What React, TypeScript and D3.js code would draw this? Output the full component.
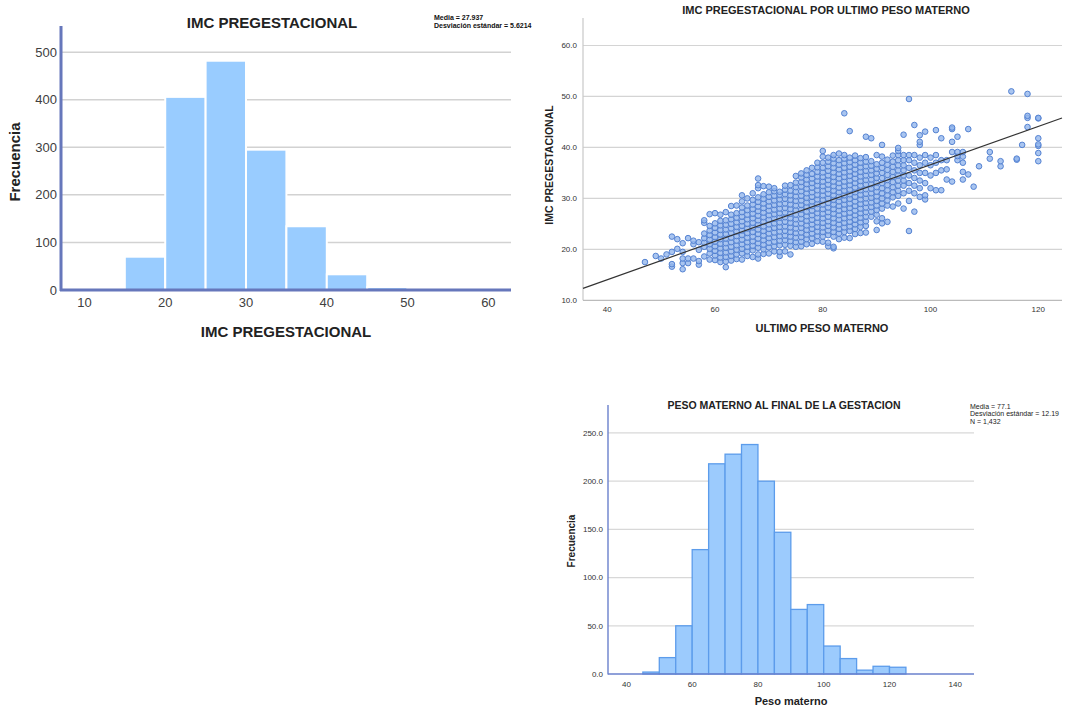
import React from "react";
import * as d3 from "d3";

// ---------- Chart 1: IMC PREGESTACIONAL histogram ----------
const imcBinStarts = [10, 15, 20, 25, 30, 35, 40, 45, 50, 55, 60];
const imcCounts = [0, 70, 406, 482, 295, 134, 33, 6, 3, 2, 1];
const imcXTicks = [10, 20, 30, 40, 50, 60];
const imcYTicks = [0, 100, 200, 300, 400, 500];

// ---------- Chart 3: PESO MATERNO histogram ----------
const pesoBinStarts = [45, 50, 55, 60, 65, 70, 75, 80, 85, 90, 95, 100, 105, 110, 115, 120];
const pesoCounts = [2, 17, 50, 129, 218, 228, 238, 200, 147, 67, 72, 29, 16, 4, 8, 7];
const pesoXTicks = [40, 60, 80, 100, 120, 140];
const pesoYTicks = [0, 50, 100, 150, 200, 250];

// ---------- Chart 2: scatter IMC vs ULTIMO PESO ----------
const scatterXTicks = [40, 60, 80, 100, 120];
const scatterYTicks = [10, 20, 30, 40, 50, 60];
const regression = { intercept: -1.0, slope: 0.376 };
// [peso, [IMC values read per weight column]]
const scatterColumns: [number, number[]][] = [
  [47, [17.5]],
  [49, [18.7]],
  [50, [18.2]],
  [51, [19.0]],
  [52, [16.6, 17.1, 19.5, 22.5]],
  [53, [20.1, 22.0]],
  [54, [16.1, 17.3, 18.2, 19.5, 21.2]],
  [55, [17.3, 18.2, 22.2]],
  [56, [18.2, 21.0, 21.7]],
  [57, [17.0, 17.7, 19.9, 21.4]],
  [58, [18.6, 20.5, 21.3, 22.2, 23.1, 25.2, 25.7]],
  [59, [18.0, 19.2, 20.1, 21.0, 21.9, 22.8, 23.7, 24.6, 26.9]],
  [60, [17.9, 18.8, 19.7, 20.6, 21.5, 22.4, 23.3, 24.2, 25.1, 27.1]],
  [61, [17.5, 18.4, 19.3, 20.2, 21.1, 22.0, 22.9, 23.8, 24.7, 25.6, 26.8]],
  [62, [16.5, 17.6, 18.5, 19.4, 20.3, 21.2, 22.1, 23.0, 23.9, 24.8, 25.7, 27.3]],
  [63, [17.8, 18.7, 19.6, 20.5, 21.4, 22.3, 23.2, 24.1, 25.0, 25.9, 26.8, 28.5]],
  [64, [18.1, 19.0, 19.9, 20.8, 21.7, 22.6, 23.5, 24.4, 25.3, 26.2, 27.1, 28.6]],
  [65, [18.0, 19.2, 20.1, 21.0, 21.9, 22.8, 23.7, 24.6, 25.5, 26.4, 27.3, 28.2, 29.4, 30.6]],
  [66, [18.7, 19.6, 20.5, 21.4, 22.3, 23.2, 24.1, 25.0, 25.9, 26.8, 27.7, 28.6, 30.0]],
  [67, [18.5, 19.8, 20.7, 21.6, 22.5, 23.4, 24.3, 25.2, 26.1, 27.0, 27.9, 28.8, 29.7, 31.0]],
  [68, [18.2, 19.0, 20.3, 21.2, 22.1, 23.0, 23.9, 24.8, 25.7, 26.6, 27.5, 28.4, 29.3, 30.2, 32.0, 32.6, 33.9]],
  [69, [19.1, 20.0, 20.9, 21.8, 22.7, 23.6, 24.5, 25.4, 26.3, 27.2, 28.1, 29.0, 29.9, 30.8, 32.4]],
  [70, [19.2, 20.4, 21.3, 22.2, 23.1, 24.0, 24.9, 25.8, 26.7, 27.6, 28.5, 29.4, 30.3, 31.2, 32.3]],
  [71, [19.6, 20.6, 21.5, 22.4, 23.3, 24.2, 25.1, 26.0, 26.9, 27.8, 28.7, 29.6, 30.5, 31.4, 32.0]],
  [72, [18.7, 19.5, 20.8, 21.7, 22.6, 23.5, 24.4, 25.3, 26.2, 27.1, 28.0, 28.9, 29.8, 30.7, 31.3]],
  [73, [19.6, 20.9, 21.8, 22.7, 23.6, 24.5, 25.4, 26.3, 27.2, 28.1, 29.0, 29.9, 30.8, 31.7, 32.5]],
  [74, [19.0, 20.7, 21.6, 22.5, 23.4, 24.3, 25.2, 26.1, 27.0, 27.9, 28.8, 29.7, 30.6, 31.5, 32.6]],
  [75, [20.5, 21.4, 22.3, 23.2, 24.1, 25.0, 25.9, 26.8, 27.7, 28.6, 29.5, 30.4, 31.3, 32.2, 33.1, 34.4]],
  [76, [20.6, 21.5, 22.4, 23.3, 24.2, 25.1, 26.0, 26.9, 27.8, 28.7, 29.6, 30.5, 31.4, 32.3, 33.2, 34.1, 34.9]],
  [77, [21.0, 22.0, 22.9, 23.8, 24.7, 25.6, 26.5, 27.4, 28.3, 29.2, 30.1, 31.0, 31.9, 32.8, 33.7, 34.6, 35.5]],
  [78, [21.1, 22.2, 23.1, 24.0, 24.9, 25.8, 26.7, 27.6, 28.5, 29.4, 30.3, 31.2, 32.1, 33.0, 33.9, 34.8, 36.0]],
  [79, [21.6, 22.6, 23.5, 24.4, 25.3, 26.2, 27.1, 28.0, 28.9, 29.8, 30.7, 31.6, 32.5, 33.4, 34.3, 35.2, 36.1, 37.0]],
  [80, [21.5, 22.5, 23.4, 24.3, 25.2, 26.1, 27.0, 27.9, 28.8, 29.7, 30.6, 31.5, 32.4, 33.3, 34.2, 35.1, 36.0, 37.0, 38.2, 39.3]],
  [81, [20.6, 21.3, 22.8, 23.7, 24.6, 25.5, 26.4, 27.3, 28.2, 29.1, 30.0, 30.9, 31.8, 32.7, 33.6, 34.5, 35.4, 36.3, 37.2, 38.0]],
  [82, [20.2, 20.5, 22.5, 23.4, 24.3, 25.2, 26.1, 27.0, 27.9, 28.8, 29.7, 30.6, 31.5, 32.4, 33.3, 34.2, 35.1, 36.0, 36.9, 37.8, 38.5]],
  [83, [22.0, 23.1, 24.0, 24.9, 25.8, 26.7, 27.6, 28.5, 29.4, 30.3, 31.2, 32.1, 33.0, 33.9, 34.8, 35.7, 36.6, 37.5, 38.8]],
  [84, [22.3, 23.4, 24.3, 25.2, 26.1, 27.0, 27.9, 28.8, 29.7, 30.6, 31.5, 32.4, 33.3, 34.2, 35.1, 36.0, 36.9, 37.8, 38.5, 46.7]],
  [85, [22.2, 23.6, 24.5, 25.4, 26.3, 27.2, 28.1, 29.0, 29.9, 30.8, 31.7, 32.6, 33.5, 34.4, 35.3, 36.2, 37.1, 38.0, 43.2]],
  [86, [23.0, 24.0, 24.9, 25.8, 26.7, 27.6, 28.5, 29.4, 30.3, 31.2, 32.1, 33.0, 33.9, 34.8, 35.7, 36.6, 37.5, 38.4]],
  [87, [23.2, 24.4, 25.3, 26.2, 27.1, 28.0, 28.9, 29.8, 30.7, 31.6, 32.5, 33.4, 34.3, 35.2, 36.1, 37.0, 37.9]],
  [88, [23.3, 24.6, 25.5, 26.4, 27.3, 28.2, 29.1, 30.0, 30.9, 31.8, 32.7, 33.6, 34.5, 35.4, 36.3, 37.2, 38.1, 42.1]],
  [89, [26.4, 27.4, 28.3, 29.2, 30.1, 31.0, 31.9, 32.8, 33.7, 34.6, 35.5, 36.4, 37.3, 41.8]],
  [90, [23.8, 25.5, 26.8, 27.7, 28.6, 29.5, 30.4, 31.3, 32.2, 33.1, 34.0, 34.9, 35.8, 36.7, 38.5]],
  [91, [25.1, 26.1, 28.0, 29.0, 30.0, 31.0, 32.0, 33.0, 34.0, 35.0, 36.0, 37.0, 38.2, 40.5]],
  [92, [25.4, 28.6, 29.6, 30.6, 31.6, 32.6, 33.6, 34.6, 35.6, 36.6, 37.6]],
  [93, [28.4, 30.2, 31.2, 32.2, 33.2, 34.2, 35.2, 36.2, 37.2, 38.4]],
  [94, [29.0, 30.5, 31.5, 32.5, 33.5, 34.5, 35.5, 36.5, 37.5, 38.5, 39.3, 39.9]],
  [95, [28.0, 31.0, 32.5, 33.5, 34.5, 35.5, 36.5, 37.5, 38.5, 42.5]],
  [96, [23.6, 29.5, 31.5, 33.0, 34.5, 36.0, 37.5, 38.5, 49.5]],
  [97, [27.4, 31.0, 32.5, 34.0, 35.5, 37.0, 38.5, 44.4]],
  [98, [30.3, 32.0, 33.5, 35.0, 36.5, 38.0, 40.5, 41.1, 42.4]],
  [99, [29.8, 30.6, 33.0, 35.0, 37.0, 38.5, 43.1]],
  [100, [32.0, 34.5, 36.5, 38.0]],
  [101, [31.6, 35.0, 37.0, 38.5, 43.4]],
  [102, [31.6, 35.5, 37.5, 41.8]],
  [103, [33.7, 35.7, 37.5]],
  [104, [33.3, 39.1, 41.1, 43.6, 43.9]],
  [105, [37.5, 38.3, 39.1, 42.1]],
  [106, [33.7, 35.2, 37.0, 38.2, 39.1]],
  [107, [34.7, 43.6]],
  [108, [32.3]],
  [109, [36.3]],
  [111, [37.8, 39.1]],
  [113, [36.3, 37.3]],
  [115, [51.0]],
  [116, [37.6, 37.8]],
  [117, [40.5]],
  [118, [44.0, 45.8, 46.2, 50.5]],
  [120, [37.3, 38.9, 40.3, 40.6, 41.8, 45.7, 45.8]],
];

const FONT = "'Liberation Sans', Arial, sans-serif";
const NARROW = "'Liberation Sans Narrow', 'Liberation Sans', sans-serif";

function ImcHistogram() {
  const x = d3.scaleLinear().domain([7.1, 62.8]).range([61, 511]);
  const y = d3.scaleLinear().domain([0, 555]).range([290, 26]);
  const bw = 5;
  return (
    <g>
      {imcYTicks.map((t) => (
        <g key={t}>
          {t > 0 && <line x1={61} x2={511} y1={y(t)} y2={y(t)} stroke="#d2d2d2" strokeWidth={1.5} />}
          <text x={57} y={y(t)} dy="0.35em" textAnchor="end" fontSize={13} fill="#404040" fontFamily={FONT}>{t}</text>
        </g>
      ))}
      {imcBinStarts.map((b, i) =>
        imcCounts[i] > 0 ? (
          <rect key={b} x={x(b)} y={y(imcCounts[i])} width={x(b + bw) - x(b)} height={y(0) - y(imcCounts[i])}
            fill="#99CCFF" stroke="#ffffff" strokeWidth={2} />
        ) : null
      )}
      <line x1={61} x2={61} y1={26} y2={291} stroke="#6677bb" strokeWidth={3} />
      <line x1={60} x2={511} y1={290} y2={290} stroke="#6677bb" strokeWidth={3} />
      {imcXTicks.map((t) => (
        <text key={t} x={x(t)} y={307} textAnchor="middle" fontSize={13} fill="#404040" fontFamily={FONT}>{t}</text>
      ))}
      <text x={272} y={28} textAnchor="middle" fontSize={15} fontWeight="bold" fill="#222" fontFamily={FONT}>IMC PREGESTACIONAL</text>
      <text x={434} y={20} fontSize={7} fontWeight="bold" fill="#111" fontFamily={NARROW}>Media = 27.937</text>
      <text x={434} y={27.5} fontSize={7} fontWeight="bold" fill="#111" fontFamily={NARROW}>Desviación estándar = 5.6214</text>
      <text x={286} y={337} textAnchor="middle" fontSize={15} fontWeight="bold" fill="#222" fontFamily={FONT}>IMC PREGESTACIONAL</text>
      <text transform="translate(20,162) rotate(-90)" textAnchor="middle" fontSize={15} fontWeight="bold" fill="#222" fontFamily={FONT}>Frecuencia</text>
    </g>
  );
}

function Scatter() {
  const x = d3.scaleLinear().domain([35.5, 124.4]).range([583, 1062]);
  const y = d3.scaleLinear().domain([10, 65.4]).range([300.3, 18]);
  const pts: [number, number][] = [];
  scatterColumns.forEach(([w, vals]) => vals.forEach((v) => pts.push([w, v])));
  const x0 = 35.5, x1 = 124.4;
  return (
    <g>
      {scatterYTicks.map((t) => (
        <g key={t}>
          {t > 10 && <line x1={583} x2={1062} y1={y(t)} y2={y(t)} stroke="#d4d4d4" strokeWidth={1.2} />}
          <text x={577} y={y(t)} dy="0.35em" textAnchor="end" fontSize={8} fill="#333" fontFamily={FONT}>{t.toFixed(1)}</text>
        </g>
      ))}
      <line x1={583} x2={583} y1={18} y2={300.3} stroke="#c8c8c8" strokeWidth={1.2} />
      <line x1={583} x2={1062} y1={300.3} y2={300.3} stroke="#bbbbbb" strokeWidth={1.2} />
      {scatterXTicks.map((t) => (
        <text key={t} x={x(t)} y={312} textAnchor="middle" fontSize={8} fill="#333" fontFamily={FONT}>{t}</text>
      ))}
      {pts.map(([w, v], i) => (
        <circle key={i} cx={x(w)} cy={y(v)} r={2.8} fill="#94b7ec" fillOpacity={0.8} stroke="#5482d2" strokeWidth={1} />
      ))}
      <line x1={x(x0)} y1={y(regression.intercept + regression.slope * x0)} x2={x(x1)} y2={y(regression.intercept + regression.slope * x1)}
        stroke="#333" strokeWidth={1.2} />
      <text x={826} y={14} textAnchor="middle" fontSize={11} fontWeight="bold" fill="#222" fontFamily={FONT}>IMC PREGESTACIONAL POR  ULTIMO PESO MATERNO</text>
      <text x={822} y={332} textAnchor="middle" fontSize={11} fontWeight="bold" fill="#222" fontFamily={FONT}>ULTIMO PESO MATERNO</text>
      <text transform="translate(553,165) rotate(-90)" textAnchor="middle" fontSize={10.5} fontWeight="bold" fill="#222" fontFamily={FONT}>IMC PREGESTACIONAL</text>
    </g>
  );
}

function PesoHistogram() {
  const x = d3.scaleLinear().domain([34.4, 145.7]).range([608, 974]);
  const y = d3.scaleLinear().domain([0, 279]).range([674, 405]);
  const bw = 5;
  return (
    <g>
      {pesoYTicks.map((t) => (
        <g key={t}>
          {t > 0 && <line x1={608} x2={974} y1={y(t)} y2={y(t)} stroke="#d8d8d8" strokeWidth={1.2} />}
          <text x={603} y={y(t)} dy="0.35em" textAnchor="end" fontSize={8} fill="#333" fontFamily={FONT}>{t.toFixed(1)}</text>
        </g>
      ))}
      {pesoBinStarts.map((b, i) => (
        <rect key={b} x={x(b)} y={y(pesoCounts[i])} width={x(b + bw) - x(b)} height={y(0) - y(pesoCounts[i])}
          fill="#9ccbfd" stroke="#5c9ceb" strokeWidth={1.3} />
      ))}
      <line x1={608} x2={608} y1={405} y2={674.5} stroke="#6a80cc" strokeWidth={1.4} />
      <line x1={608} x2={974} y1={674} y2={674} stroke="#6a80cc" strokeWidth={1.4} />
      {pesoXTicks.map((t) => (
        <text key={t} x={x(t)} y={687} textAnchor="middle" fontSize={8} fill="#333" fontFamily={FONT}>{t}</text>
      ))}
      <text x={784} y={409} textAnchor="middle" fontSize={10.5} fontWeight="bold" fill="#222" fontFamily={FONT}>PESO MATERNO AL FINAL DE LA GESTACION</text>
      <text x={970} y={408.5} fontSize={7} fill="#222" fontFamily={FONT}>Media = 77.1</text>
      <text x={970} y={416} fontSize={7} fill="#222" fontFamily={FONT}>Desviación estándar = 12.19</text>
      <text x={970} y={423.5} fontSize={7} fill="#222" fontFamily={FONT}>N = 1,432</text>
      <text x={791} y={705} textAnchor="middle" fontSize={11} fontWeight="bold" fill="#222" fontFamily={FONT}>Peso materno</text>
      <text transform="translate(575,541) rotate(-90)" textAnchor="middle" fontSize={10} fontWeight="bold" fill="#222" fontFamily={FONT}>Frecuencia</text>
    </g>
  );
}

export default function App() {
  return (
    <svg width={1066} height={709} style={{ position: "absolute", left: 0, top: 0, background: "#fff" }}>
      <rect width={1066} height={709} fill="#fff" />
      <ImcHistogram />
      <Scatter />
      <PesoHistogram />
    </svg>
  );
}
